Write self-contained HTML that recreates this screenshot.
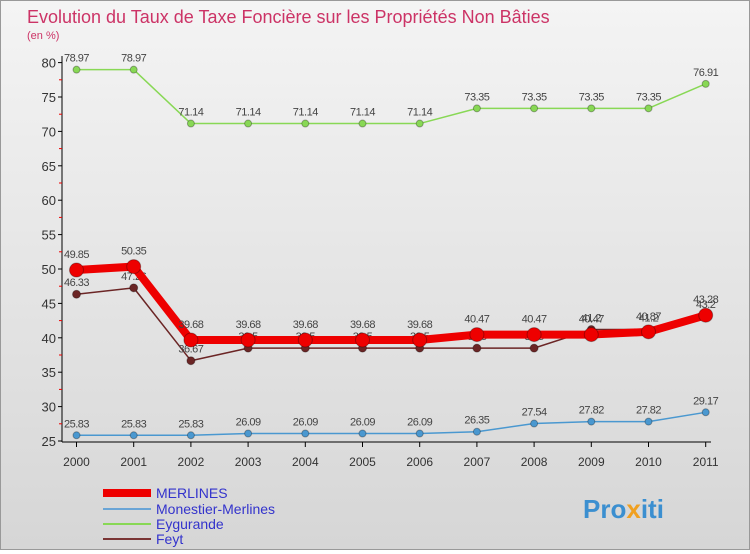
<!DOCTYPE html>
<html><head><meta charset="utf-8"><style>
body{margin:0;width:750px;height:550px;overflow:hidden;font-family:"Liberation Sans",sans-serif}
#wrap{position:relative;width:748px;height:548px;border:1px solid #999;background:linear-gradient(#f4f4f4,#d6d6d6)}
</style></head><body>
<div id="wrap">
<svg id="chart" width="748" height="548" font-family="Liberation Sans, sans-serif">
<text x="26" y="22" font-size="18" fill="#cc3366">Evolution du Taux de Taxe Foncière sur les Propriétés Non Bâties</text>
<text x="26" y="38" font-size="11" fill="#cc3366">(en %)</text>
<g id="axes"></g><g id="series"></g>
<g>
<line x1="102" y1="492" x2="150" y2="492" stroke="#e00" stroke-width="8"/>
<text x="155" y="497" font-size="14" fill="#33c">MERLINES</text>
<line x1="102" y1="508" x2="150" y2="508" stroke="#6aa5d6" stroke-width="2"/>
<text x="155" y="513" font-size="14" fill="#33c">Monestier-Merlines</text>
<line x1="102" y1="523" x2="150" y2="523" stroke="#88d855" stroke-width="2"/>
<text x="155" y="528" font-size="14" fill="#33c">Eygurande</text>
<line x1="102" y1="538" x2="150" y2="538" stroke="#7a3535" stroke-width="2"/>
<text x="155" y="543" font-size="14" fill="#33c">Feyt</text>
</g>
<text x="582" y="517" font-size="26" font-weight="bold" fill="#3b8fd0">Pro<tspan fill="#f0a020">x</tspan>iti</text>
</svg></div>
<script>
const years=["2000","2001","2002","2003","2004","2005","2006","2007","2008","2009","2010","2011"];
const yTicks=[25,30,35,40,45,50,55,60,65,70,75,80];
const merlines=[49.85,50.35,39.68,39.68,39.68,39.68,39.68,40.47,40.47,40.47,40.87,43.28];
const monestier=[25.83,25.83,25.83,26.09,26.09,26.09,26.09,26.35,27.54,27.82,27.82,29.17];
const eygurande=[78.97,78.97,71.14,71.14,71.14,71.14,71.14,73.35,73.35,73.35,73.35,76.91];
const feyt=[46.33,47.26,36.67,38.5,38.5,38.5,38.5,38.5,38.5,41.2,41.2,43.2];
const NS="http://www.w3.org/2000/svg";
const xs=i=>75.5+i*57.2, ys=v=>440-(v-25)*6.88;
function mk(t,a,p){const e=document.createElementNS(NS,t);for(const k in a)e.setAttribute(k,a[k]);p.appendChild(e);return e;}
const ax=document.getElementById('axes');
let l=mk('line',{x1:61,y1:55,x2:61,y2:441,stroke:'#000'},ax);


l=mk('line',{x1:61,y1:441,x2:710,y2:441,stroke:'#000'},ax);


yTicks.forEach(v=>{mk('line',{x1:57,y1:ys(v),x2:61,y2:ys(v),stroke:'#000'},ax);
 if(v<80)mk('line',{x1:58,y1:ys(v+2.5),x2:61,y2:ys(v+2.5),stroke:'#e00'},ax);
 const t=mk('text',{x:55,y:ys(v)+5,'font-size':13,fill:'#333','text-anchor':'end'},ax);t.textContent=v;
 
 });
years.forEach((y,i)=>{mk('line',{x1:xs(i),y1:441,x2:xs(i),y2:446,stroke:'#000'},ax);
 const t=mk('text',{x:xs(i),y:465,'font-size':12,fill:'#333','text-anchor':'middle'},ax);t.textContent=y;
 
 });
const sg=document.getElementById('series');
function draw(name,data,color,w,r,labelDy){
 const g=mk('g',{},sg);
 
 
 const p=mk('polyline',{points:data.map((v,i)=>xs(i)+','+ys(v)).join(' '),fill:'none',stroke:color,'stroke-width':w,'stroke-linejoin':'round'},g);
 
 
 data.forEach((v,i)=>{const c=mk('circle',{cx:xs(i),cy:ys(v),r:r,fill:color,stroke:'rgba(0,0,0,0.3)'},g);
  
  
  const t=mk('text',{x:xs(i),y:ys(v)+labelDy,'font-size':11,fill:'#444','text-anchor':'middle','letter-spacing':'-0.5'},g);t.textContent=v;
  
  });
}
draw('eygurande',eygurande,'#88d855',1.5,3.5,-8);
draw('monestier',monestier,'#4a98d0',1.5,3.5,-8);
draw('feyt',feyt,'#6b2525',1.5,4,-8);
draw('merlines',merlines,'#ee0000',8,7,-12);
</script>
</body></html>
